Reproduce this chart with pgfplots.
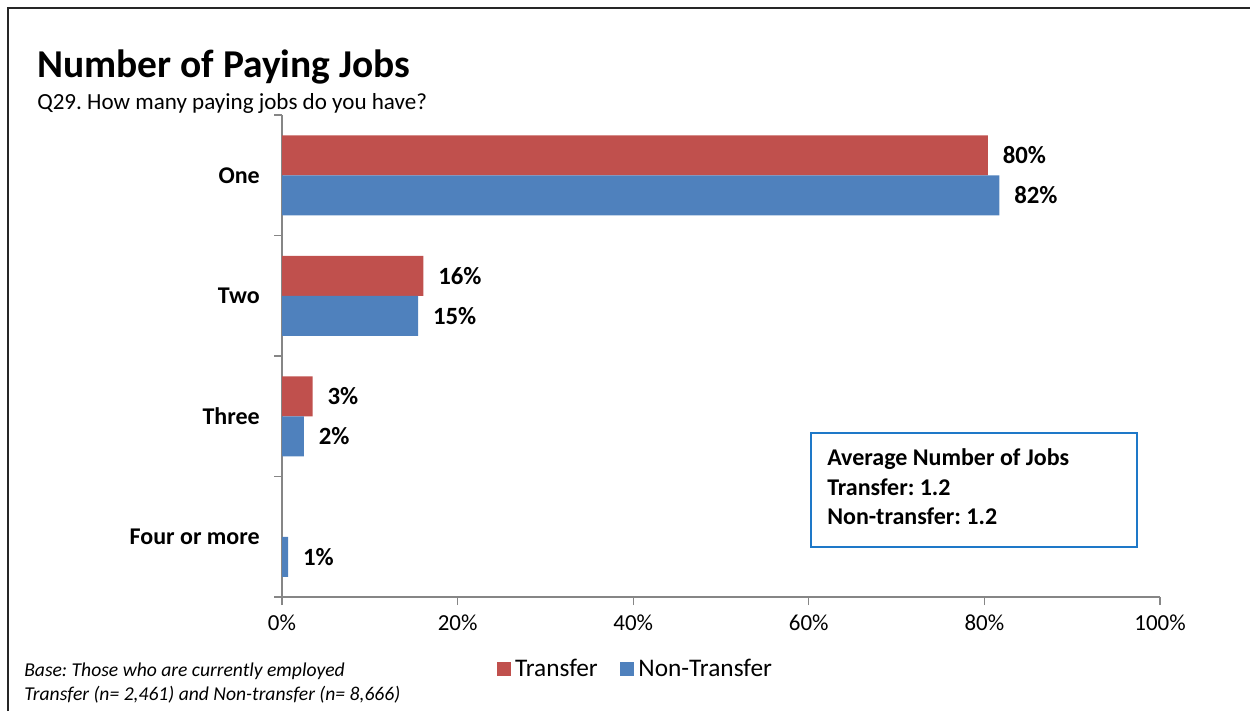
\documentclass[border=0pt]{standalone}
\usepackage{fontspec}
\setmainfont{Carlito}
\usepackage{pgfplots}
\pgfplotsset{compat=1.18}
\definecolor{tred}{RGB}{192,80,77}
\definecolor{tblue}{RGB}{79,129,189}
\definecolor{axgray}{RGB}{134,134,134}
\definecolor{boxblue}{RGB}{30,120,200}
\frenchspacing
\begin{document}
\begin{tikzpicture}
\useasboundingbox (0pt,0pt) rectangle (937.5pt,-533.25pt);
\begin{scope}[x=0.75pt,y=-0.75pt]
\draw[line width=1.5pt, black!85] (8,711) -- (8,8) -- (1250,8);
\node[anchor=base west, inner sep=0pt, font=\fontsize{29.6}{33}\selectfont\bfseries] at (37,77) {Number of Paying Jobs};
\node[anchor=base west, inner sep=0pt, font=\fontsize{17.3}{20}\selectfont] at (37,109) {Q29. How many paying jobs do you have?};
\node[anchor=base west, inner sep=0pt, font=\fontsize{14.7}{17}\selectfont\itshape] at (24,676) {Base: Those who are currently employed};
\node[anchor=base west, inner sep=0pt, font=\fontsize{14.7}{17}\selectfont\itshape] at (24,700) {Transfer (n= 2,461) and Non-transfer (n= 8,666)};
\draw[boxblue, line width=1pt] (811,433) rectangle (1137,547);
\node[anchor=base west, inner sep=0pt, font=\fontsize{18}{20}\selectfont\bfseries] at (827,465) {Average Number of Jobs};
\node[anchor=base west, inner sep=0pt, font=\fontsize{18}{20}\selectfont\bfseries] at (827,495) {Transfer: 1.2};
\node[anchor=base west, inner sep=0pt, font=\fontsize{18}{20}\selectfont\bfseries] at (827,524) {Non-transfer: 1.2};
\end{scope}
\begin{axis}[
  at={(211.5pt,-447.75pt)}, anchor=south west, scale only axis,
  width=658.5pt, height=361.5pt,
  xmin=0, xmax=100, ymin=-0.5, ymax=3.5,
  axis x line*=bottom, axis y line*=left,
  axis line style={axgray, line width=0.8pt},
  tick style={axgray, line width=0.8pt},
  tick align=outside,
  major tick length=6pt, minor tick length=6pt,
  xtick={0,20,...,100},
  xticklabel={\pgfmathprintnumber{\tick}\%},
  /pgf/number format/assume math mode=true,
  xticklabel style={font=\fontsize{17.2}{20}\selectfont, yshift=-4pt},
  ytick={0,1,2,3},
  yticklabels={Four or more, Three, Two, One},
  major y tick style={draw=none},
  minor ytick={-0.5,0.5,1.5,2.5,3.5},
  yticklabel style={font=\fontsize{18}{20}\selectfont\bfseries, anchor=east, inner sep=0pt, xshift=-10.5pt},
  xbar, bar width=0.332,
  point meta=explicit symbolic,
  nodes near coords={\pgfplotspointmeta\%},
  nodes near coords style={anchor=west, inner sep=0pt, xshift=11pt, font=\fontsize{18.6}{20}\selectfont\bfseries, text=black},
  legend columns=2,
  legend style={draw=none, fill=none, at={(0.403,-0.149)}, anchor=center, font=\fontsize{19}{21}\selectfont, /tikz/every even column/.append style={column sep=15pt}, /tikz/every odd column/.append style={column sep=1pt}, inner sep=0pt},
  legend image code/.code={\fill[#1] (0pt,-5.25pt) rectangle (10.5pt,5.25pt);},
]
\addplot[fill=tred, draw=none, bar shift=0.166] coordinates {(80.4,3)[80] (16.1,2)[16] (3.5,1)[3]};
\addlegendentry{Transfer}
\addplot[fill=tblue, draw=none, bar shift=-0.166] coordinates {(81.7,3)[82] (15.5,2)[15] (2.5,1)[2] (0.7,0)[1]};
\addlegendentry{Non-Transfer}
\end{axis}
\end{tikzpicture}
\end{document}
